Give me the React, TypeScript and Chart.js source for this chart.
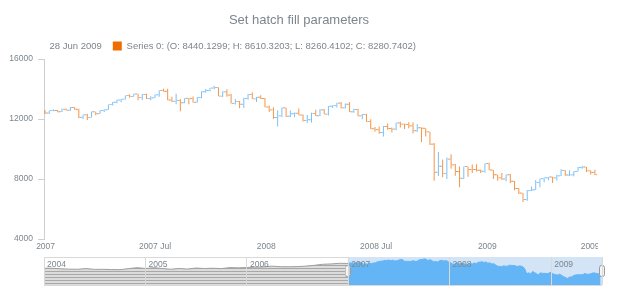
import React, { useEffect, useRef } from 'react';
import { Chart, registerables } from 'chart.js';

Chart.register(...registerables);

// ---------- data ----------
const DAY = 86400000;
const FIRST_WEEK = Date.UTC(2006, 11, 31); // weekly points (Sunday dates)

const OPEN = [
  12459, 12398, 12556, 12566, 12487, 12653, 12580, 12768, 12647, 12114, 12277, 12110, 12481, 12354, 12560, 12612,
  12961, 13120, 13264, 13326, 13556, 13507, 13668, 13424, 13639, 13360, 13408, 13611, 13907, 13851, 13265, 13182,
  13239, 13079, 13379, 13358, 13113, 13442, 13821, 13896, 14066, 14093, 13522, 13807, 13595, 13043, 13177, 12981,
  13372, 13625, 13339, 13451, 13366, 12800, 12606, 12099, 12207, 12743, 12182, 12348, 12381, 12266, 11894, 11951,
  12361, 12216, 12609, 12325, 12849, 12891, 13058, 12745, 12986, 12480, 12638, 12210, 12307, 11843, 11347, 11288,
  11100, 11496, 11370, 11326, 11734, 11659, 11628, 11543, 11220, 11421, 11388, 11143, 10325, 8451, 8852, 8378,
  9325, 8943, 8497, 8046, 8829, 8635, 8629, 8579, 8515, 9034, 8599, 8281, 8077, 8001, 8280, 7850,
  7366, 7063, 6627, 7224, 7279, 7776, 8018, 8083, 8131, 8076, 8212, 8575, 8268, 8277, 8500, 8764,
  8799, 8539, 8440.1299,
];
const HIGH = [
  12580, 12560, 12630, 12600, 12680, 12700, 12795, 12790, 12680, 12300, 12350, 12500, 12490, 12580, 12630, 12970,
  13130, 13280, 13330, 13560, 13650, 13690, 13680, 13660, 13680, 13520, 13630, 13920, 14020, 14010, 13480, 13680,
  13330, 13380, 13390, 13500, 13460, 13850, 14000, 14070, 14198, 14110, 13850, 13990, 13690, 13330, 13200, 13420,
  13660, 13780, 13460, 13580, 13400, 12900, 12780, 12590, 12770, 12750, 12560, 12430, 12700, 12300, 12270, 12410,
  12620, 12650, 12660, 12870, 12920, 13090, 13140, 13030, 13140, 12680, 12680, 12340, 12340, 11990, 11460, 11500,
  11530, 11700, 11440, 11750, 11810, 11680, 11790, 11790, 11660, 11430, 11390, 11150, 10400, 9800, 9300, 9430,
  9650, 9000, 8830, 8830, 8830, 8960, 8980, 8630, 9040, 9090, 8600, 8290, 8400, 8300, 8340, 7860,
  7400, 7070, 7270, 7500, 7930, 8040, 8100, 8140, 8150, 8280, 8650, 8580, 8580, 8520, 8800, 8880,
  8800, 8580, 8610.3203,
];
const LOW = [
  12340, 12340, 12510, 12450, 12460, 12570, 12550, 12620, 12050, 12000, 11940, 12100, 12250, 12330, 12470, 12610,
  12900, 13050, 13120, 13300, 13410, 13490, 13250, 13260, 13330, 13250, 13400, 13480, 13840, 13250, 13140, 12980,
  12520, 13050, 12990, 13100, 13100, 13390, 13760, 13850, 13980, 13510, 13460, 13490, 13040, 12960, 12720, 12740,
  13280, 13330, 13130, 13340, 12790, 12470, 12000, 11508, 12120, 12130, 12130, 12120, 12250, 11830, 11730, 11760,
  12200, 12200, 12310, 12230, 12730, 12770, 12720, 12700, 12460, 12420, 12180, 11990, 11810, 11330, 11150, 11010,
  10827, 11280, 11100, 11250, 11440, 11340, 11390, 11040, 11150, 10460, 10840, 10270, 7882, 8200, 8120, 8000,
  8680, 8210, 7450, 8000, 8150, 8400, 8500, 8400, 8420, 8580, 8000, 7880, 7930, 7850, 7730, 7250,
  7000, 6470, 6550, 7200, 7270, 7450, 7780, 7920, 7740, 7900, 8200, 8220, 8200, 8190, 8500, 8680,
  8460, 8300, 8260.4102,
];
const CLOSE = [
  12398, 12556, 12566, 12487, 12653, 12580, 12768, 12647, 12114, 12277, 12110, 12481, 12354, 12560, 12612, 12961,
  13120, 13264, 13326, 13556, 13507, 13668, 13424, 13639, 13360, 13408, 13611, 13907, 13851, 13265, 13182, 13239,
  13079, 13379, 13358, 13113, 13442, 13821, 13896, 14066, 14093, 13522, 13807, 13595, 13043, 13177, 12981, 13372,
  13625, 13339, 13451, 13366, 12800, 12606, 12099, 12207, 12743, 12182, 12348, 12381, 12266, 11894, 11951, 12361,
  12216, 12609, 12325, 12849, 12891, 13058, 12745, 12986, 12480, 12638, 12210, 12307, 11843, 11347, 11288, 11100,
  11496, 11370, 11326, 11734, 11659, 11628, 11543, 11220, 11421, 11388, 11143, 10325, 8451, 8852, 8378, 9325,
  8943, 8497, 8046, 8829, 8635, 8629, 8579, 8515, 9034, 8599, 8281, 8077, 8001, 8280, 7850, 7366,
  7063, 6627, 7224, 7279, 7776, 8018, 8083, 8131, 8076, 8212, 8575, 8268, 8277, 8500, 8764, 8799,
  8539, 8438, 8280.7402,
];

// scroller: monthly levels Jan 2004 .. Dec 2006 (then the weekly closes above)
const SCROLL_MONTHLY = [
  10540, 10580, 10360, 10230, 10190, 10430, 10140, 10170, 10080, 10030, 10430, 10780,
  10490, 10770, 10500, 10190, 10470, 10270, 10640, 10480, 10570, 10440, 10810, 10720,
  10860, 10990, 11110, 11370, 11170, 11150, 11190, 11380, 11680, 12080, 12220, 12460,
];

const TITLE = 'Set hatch fill parameters';
const SERIES_NAME = 'Series 0';
const MONTHS = ['Jan', 'Feb', 'Mar', 'Apr', 'May', 'Jun', 'Jul', 'Aug', 'Sep', 'Oct', 'Nov', 'Dec'];

const MAIN_TICK_DATES = [
  Date.UTC(2007, 0, 1), Date.UTC(2007, 6, 1), Date.UTC(2008, 0, 1),
  Date.UTC(2008, 6, 1), Date.UTC(2009, 0, 1), Date.UTC(2009, 6, 1),
];
const MAIN_TICK_LABELS = ['2007', '2007 Jul', '2008', '2008 Jul', '2009', '2009 Jul'];
const Y_MIN = 4000;
const Y_MAX = 16000;
const Y_STEP = 4000;

const SCROLL_YEAR_DATES = [2004, 2005, 2006, 2007, 2008, 2009].map((y) => Date.UTC(y, 0, 1));
const SCROLL_YEAR_LABELS = ['2004', '2005', '2006', '2007', '2008', '2009'];
const SCROLL_Y_MIN = 4200;
const SCROLL_Y_MAX = 14850;

// ---------- styles ----------
const FONT = "'Liberation Sans', Arial, sans-serif";
const TEXT = '#7c868e';
const AXIS = '#cfcfcf';
const RISE = '#64b5f6';
const FALL = '#ef6c00';
const RISE_BAR = 'rgba(100,181,246,0.85)';
const FALL_BAR = 'rgba(239,108,0,0.72)';
const SEP = '#d9d9d9';
const SEL_BG = '#d2e4f6';
const CLEAR = 'rgba(0,0,0,0)';

export default function App() {
  const mainRef = useRef<HTMLCanvasElement>(null);
  const scrollRef = useRef<HTMLCanvasElement>(null);

  useEffect(() => {
    if (!mainRef.current || !scrollRef.current) return;

    const times = CLOSE.map((_, i) => FIRST_WEEK + i * 7 * DAY);
    const last = times.length - 1;
    const xMin = times[0] - 1.65 * DAY;
    const xMax = times[0] + 915.1 * DAY;
    const colors = CLOSE.map((c, i) => (c >= OPEN[i] ? RISE_BAR : FALL_BAR));
    const half = 30;

    const ld = new Date(times[last]);
    const dateText = `${ld.getUTCDate()} ${MONTHS[ld.getUTCMonth()]} ${ld.getUTCFullYear()}`;
    const seriesText = `${SERIES_NAME}: (O: ${OPEN[last].toFixed(4)}; H: ${HIGH[last].toFixed(4)}; L: ${LOW[last].toFixed(4)}; C: ${CLOSE[last].toFixed(4)})`;

    const clipRight = {
      id: 'clipRight',
      beforeDraw(chart: any) {
        const { ctx, chartArea } = chart;
        ctx.save();
        ctx.beginPath();
        ctx.rect(0, 0, chartArea.right, chart.height);
        ctx.clip();
      },
      afterDraw(chart: any) {
        chart.ctx.restore();
      },
    };

    const barCommon = {
      backgroundColor: colors,
      borderWidth: 0,
      inflateAmount: 0,
      grouped: true,
    };

    const main = new Chart(mainRef.current, {
      type: 'bar',
      data: {
        datasets: [
          { ...barCommon, label: 'open', barThickness: 1.5, data: times.map((t, i) => ({ x: t, y: [OPEN[i] - half, OPEN[i] + half] })) },
          { ...barCommon, label: 'range', barThickness: 1, data: times.map((t, i) => ({ x: t, y: [LOW[i], HIGH[i]] })) },
          { ...barCommon, label: 'close', barThickness: 1.5, data: times.map((t, i) => ({ x: t, y: [CLOSE[i] - half, CLOSE[i] + half] })) },
        ] as any,
      },
      options: {
        responsive: false,
        animation: false,
        events: [],
        layout: { padding: { left: 0, right: 22, top: 0, bottom: 1 } },
        plugins: {
          title: {
            display: true,
            text: TITLE,
            color: TEXT,
            font: { family: FONT, size: 13, weight: 'normal' },
            padding: { top: 13, bottom: 1.6 },
          },
          legend: {
            display: true,
            position: 'top',
            align: 'start',
            maxHeight: 28.8,
            labels: {
              boxWidth: 9,
              boxHeight: 9,
              padding: 11,
              color: TEXT,
              font: { family: FONT, size: 9.5 },
              generateLabels: () => [
                { text: '', fillStyle: CLEAR, strokeStyle: CLEAR, fontColor: TEXT, lineWidth: 0, hidden: false, datasetIndex: 0 },
                { text: dateText, fillStyle: CLEAR, strokeStyle: CLEAR, fontColor: TEXT, lineWidth: 0, hidden: false, datasetIndex: 0 },
                { text: seriesText, fillStyle: FALL, strokeStyle: FALL, fontColor: TEXT, lineWidth: 0, hidden: false, datasetIndex: 1 },
              ],
            },
          },
          tooltip: { enabled: false },
        },
        scales: {
          x: {
            type: 'linear',
            min: xMin,
            max: xMax,
            offset: false,
            grid: { display: false, offset: false, drawTicks: false },
            border: { display: false },
            ticks: {
              autoSkip: false,
              maxRotation: 0,
              padding: 3,
              color: TEXT,
              font: { family: FONT, size: 8.5 },
              callback: (_v: any, i: number) => MAIN_TICK_LABELS[i],
            },
            afterBuildTicks: (s: any) => {
              s.ticks = MAIN_TICK_DATES.map((v) => ({ value: v }));
            },
            afterFit: (s: any) => {
              s.height = 16;
            },
          },
          y: {
            type: 'linear',
            min: Y_MIN,
            max: Y_MAX,
            grid: { drawOnChartArea: false, tickLength: 6, color: AXIS },
            border: { display: true, color: AXIS },
            ticks: {
              stepSize: Y_STEP,
              padding: 5,
              color: TEXT,
              font: { family: FONT, size: 8.5 },
              callback: (v: any) => String(v),
            },
            afterFit: (s: any) => {
              s.width = 44;
            },
          },
        },
      } as any,
      plugins: [clipRight],
    });

    // hatch pattern for the unselected scroller series
    const pc = document.createElement('canvas');
    pc.width = 4;
    pc.height = 3;
    const pctx = pc.getContext('2d')!;
    pctx.fillStyle = '#dcdcdc';
    pctx.fillRect(0, 0, 4, 3);
    pctx.fillStyle = '#a8a8a8';
    pctx.fillRect(0, 0, 4, 1);
    const hatch = pctx.createPattern(pc, 'repeat');

    // thumb image for scroller handles
    const hc = document.createElement('canvas');
    hc.width = 6;
    hc.height = 12;
    const hctx = hc.getContext('2d')!;
    hctx.fillStyle = '#f4f4f4';
    hctx.strokeStyle = '#9a9a9a';
    hctx.lineWidth = 1;
    hctx.beginPath();
    (hctx as any).roundRect(0.5, 0.5, 5, 11, 2);
    hctx.fill();
    hctx.stroke();

    const scrollMonths = SCROLL_MONTHLY.map((_, i) => Date.UTC(2004, i, 1));
    const grayData = [
      ...scrollMonths.map((t, i) => ({ x: t, y: SCROLL_MONTHLY[i] })),
      { x: times[0], y: CLOSE[0] },
    ];
    const blueData = times.map((t, i) => ({ x: t, y: CLOSE[i] }));
    const mid = (SCROLL_Y_MIN + SCROLL_Y_MAX) / 2;

    const scroll = new Chart(scrollRef.current, {
      type: 'line',
      data: {
        datasets: [
          {
            label: 'selection',
            data: [{ x: xMin, y: SCROLL_Y_MAX }, { x: xMax, y: SCROLL_Y_MAX }],
            fill: 'start',
            backgroundColor: SEL_BG,
            borderWidth: 0,
            pointRadius: 0,
            order: 3,
          },
          {
            label: 'unselected',
            data: grayData,
            fill: 'start',
            backgroundColor: hatch,
            borderColor: '#9e9e9e',
            borderWidth: 1,
            pointRadius: 0,
            order: 2,
          },
          {
            label: 'selected',
            data: blueData,
            fill: 'start',
            backgroundColor: RISE,
            borderColor: RISE,
            borderWidth: 1,
            pointRadius: 0,
            order: 1,
          },
          {
            label: 'thumbs',
            data: [{ x: xMin, y: mid }, { x: xMax, y: mid }],
            showLine: false,
            pointStyle: hc,
            pointRadius: 6,
            clip: false,
            order: 0,
          },
        ] as any,
      },
      options: {
        responsive: false,
        animation: false,
        events: [],
        layout: { padding: { left: 44, right: 18, top: 7, bottom: 15 } },
        plugins: {
          legend: { display: false },
          title: { display: false },
          tooltip: { enabled: false },
        },
        scales: {
          x: {
            type: 'linear',
            position: 'top',
            min: SCROLL_YEAR_DATES[0],
            max: xMax,
            offset: false,
            grid: { color: SEP, drawTicks: false, z: 1 },
            border: { display: false },
            ticks: {
              z: 1,
              mirror: true,
              align: 'start',
              labelOffset: 3,
              padding: 3,
              autoSkip: false,
              maxRotation: 0,
              color: TEXT,
              font: { family: FONT, size: 8.5 },
              callback: (_v: any, i: number) => SCROLL_YEAR_LABELS[i] ?? '',
            },
            afterBuildTicks: (s: any) => {
              s.ticks = [...SCROLL_YEAR_DATES, xMax].map((v) => ({ value: v }));
            },
            afterFit: (s: any) => {
              s.height = 0;
            },
          },
          y: {
            type: 'linear',
            min: SCROLL_Y_MIN,
            max: SCROLL_Y_MAX,
            grid: { color: SEP, drawTicks: false },
            border: { display: false },
            ticks: { display: false },
            afterBuildTicks: (s: any) => {
              s.ticks = [{ value: SCROLL_Y_MIN }, { value: SCROLL_Y_MAX }];
            },
            afterFit: (s: any) => {
              s.width = 0;
            },
          },
        },
      } as any,
    });

    return () => {
      main.destroy();
      scroll.destroy();
    };
  }, []);

  return (
    <div style={{ position: 'absolute', left: 0, top: 0, width: 620, height: 300, background: '#fff' }}>
      <canvas ref={mainRef} width={620} height={256} style={{ position: 'absolute', left: 0, top: 0 }} />
      <canvas ref={scrollRef} width={620} height={50} style={{ position: 'absolute', left: 0, top: 250 }} />
    </div>
  );
}
